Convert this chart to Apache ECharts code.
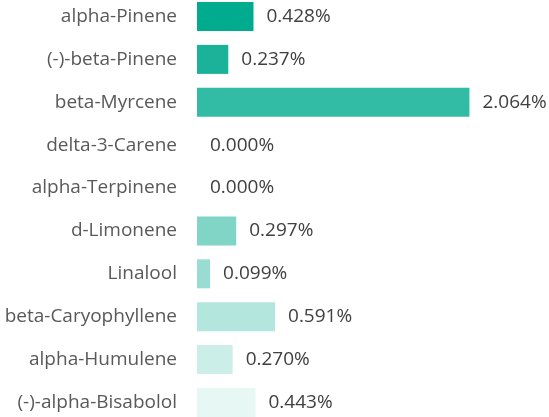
<!DOCTYPE html>
<html><head><meta charset="utf-8">
<script src="https://cdn.jsdelivr.net/npm/echarts@6/dist/echarts.min.js"></script>
<style>html,body{margin:0;padding:0;background:#fff}#c{width:549px;height:417px}</style>
</head><body><div id="c"></div>
<script>
var categories = ["alpha-Pinene","(-)-beta-Pinene","beta-Myrcene","delta-3-Carene","alpha-Terpinene","d-Limonene","Linalool","beta-Caryophyllene","alpha-Humulene","(-)-alpha-Bisabolol"];
var values = [0.428,0.237,2.064,0.000,0.000,0.297,0.099,0.591,0.270,0.443];
var barOpacity = [1,0.9,0.8,0.7,0.6,0.5,0.4,0.3,0.2,0.1];
var baseColor = [0,171,142];
function mix(a){return 'rgb('+baseColor.map(function(c){return Math.round(255-(255-c)*a);}).join(',')+')';}
var chart = echarts.init(document.getElementById('c'), null, {renderer:'canvas'});
chart.setOption({
  animation:false,
  grid:{left:197, right:22, top:16.5, bottom:14.5, containLabel:false},
  xAxis:{type:'value', min:0, max:2.5, show:false},
  yAxis:{type:'category', data:categories, inverse:true, boundaryGap:false,
    axisLine:{show:false}, axisTick:{show:false}, splitLine:{show:false},
    axisLabel:{margin:20, color:'#595959', fontSize:19, fontFamily:'Open Sans'}},
  series:[{type:'bar', barWidth:29,
    data:values.map(function(v,i){return {value:v, itemStyle:{color:mix(barOpacity[i])}};}),
    label:{show:true, position:'right', distance:13, color:'#404040', fontSize:19, fontFamily:'Open Sans',
      formatter:function(p){return p.value.toFixed(3)+'%';}}
  }]
});
</script></body></html>
